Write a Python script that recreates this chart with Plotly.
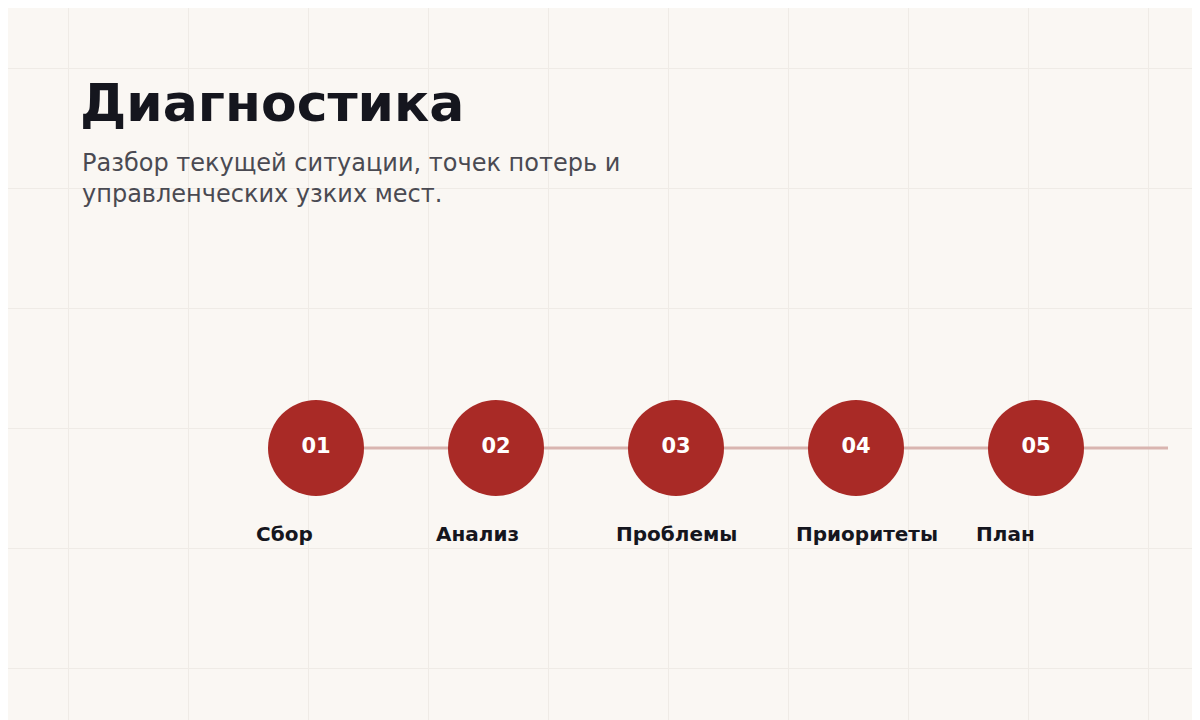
import plotly.graph_objects as go

steps = ["01", "02", "03", "04", "05"]
labels = ["Сбор", "Анализ", "Проблемы", "Приоритеты", "План"]
step_x = [308, 488, 668, 848, 1028]
title = "Диагностика"
subtitle = "Разбор текущей ситуации, точек потерь и<br>управленческих узких мест."

fig = go.Figure()
# connector line
fig.add_trace(go.Scatter(x=[step_x[0], 1160], y=[440, 440], mode="lines",
                         line=dict(color="#d9b5b0", width=3), hoverinfo="skip"))
fig.add_trace(go.Scatter(x=step_x, y=[440]*5, mode="markers+text", text=steps,
                         marker=dict(size=96, color="#a92a26", line=dict(width=0)),
                         textfont=dict(family="DejaVu Sans", size=21, color="white", weight="bold"),
                         textposition="middle center", hoverinfo="skip"))
for x, l in zip(step_x, labels):
    fig.add_annotation(x=x-62, y=526, text=l, showarrow=False, xanchor="left", yanchor="middle",
                       font=dict(family="DejaVu Sans", size=20, color="#15161e", weight="bold"))
fig.add_annotation(x=70, y=95, text=title, showarrow=False, xanchor="left", yanchor="middle",
                   font=dict(family="DejaVu Sans", size=52, color="#15161e", weight="bold"))
fig.add_annotation(x=72, y=170, text=subtitle, showarrow=False, xanchor="left", yanchor="middle", align="left",
                   font=dict(family="DejaVu Sans", size=24, color="#4a4a52"))

grid = dict(showgrid=True, gridcolor="#efebe6", gridwidth=1, zeroline=False, showticklabels=False, ticks="")
fig.update_layout(width=1200, height=720, margin=dict(l=0, r=0, t=0, b=0), showlegend=False,
                  paper_bgcolor="#faf7f3", plot_bgcolor="#faf7f3",
                  xaxis=dict(range=[0, 1200], tick0=60, dtick=120, **grid),
                  yaxis=dict(range=[720, 0], tick0=60, dtick=120, **grid))
fig.write_html("out.html")
